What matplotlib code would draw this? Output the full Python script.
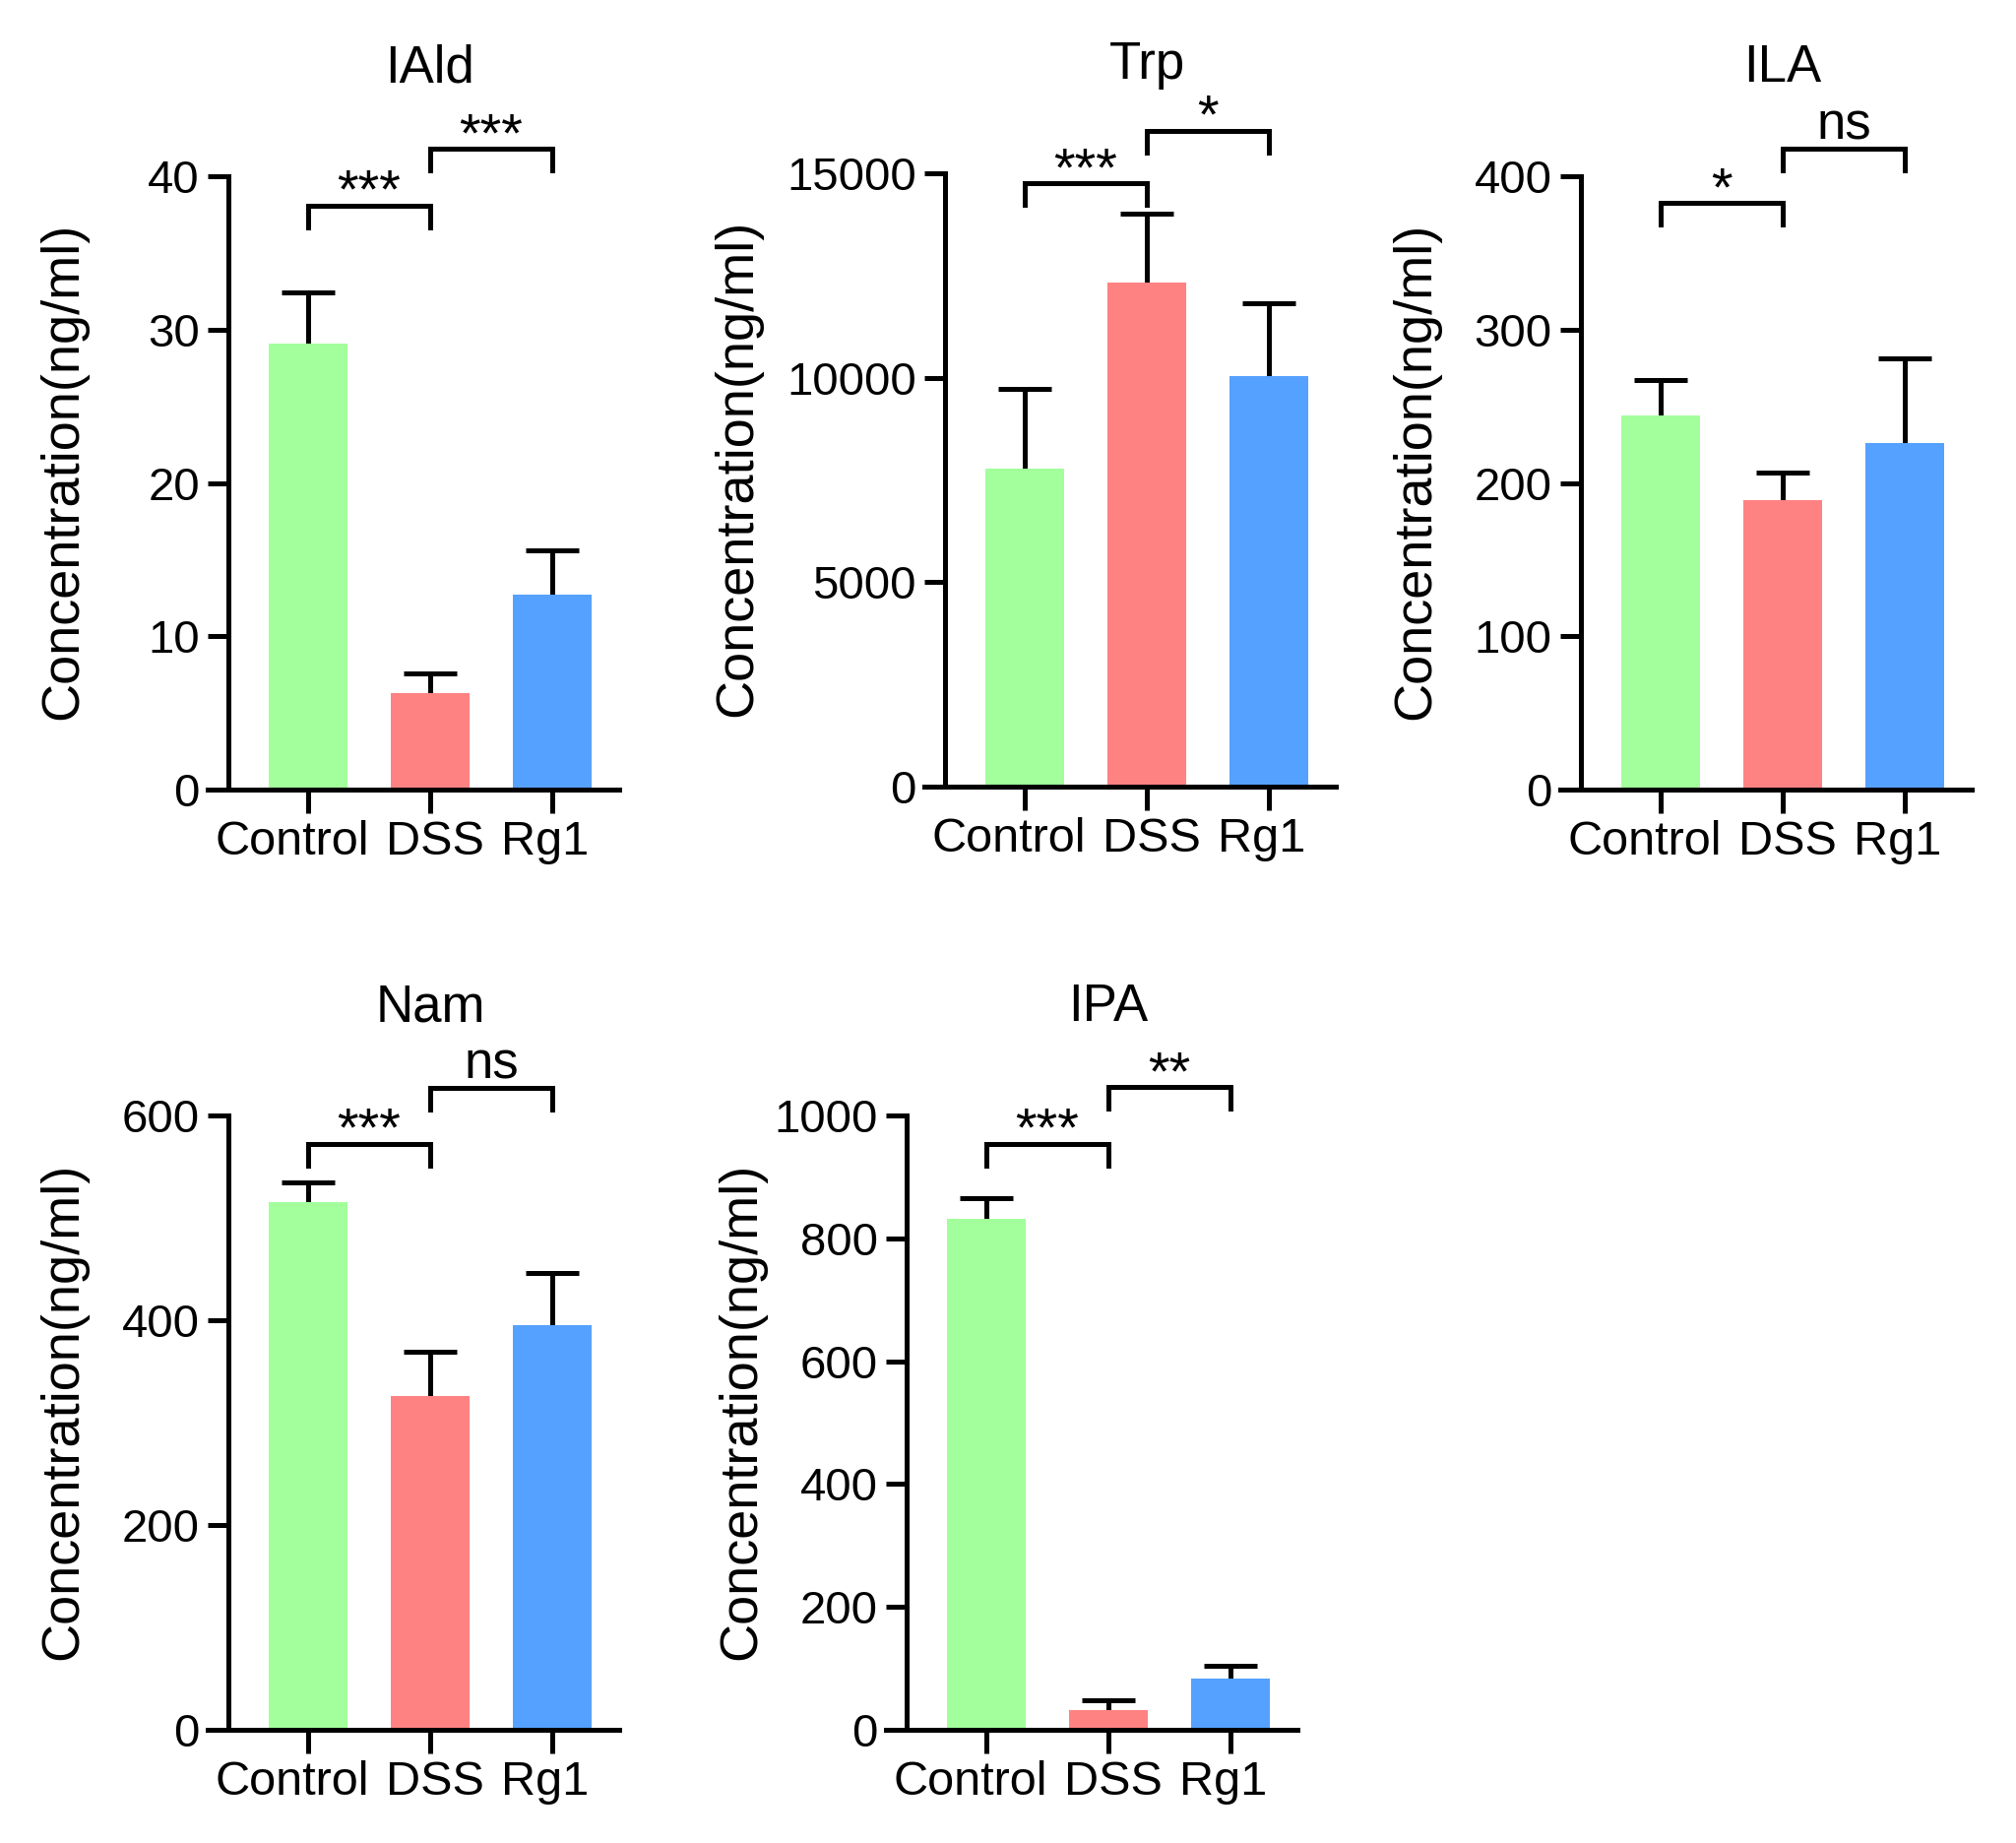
import numpy as np
import matplotlib.pyplot as plt
import matplotlib.transforms as mtransforms

plt.rcParams['font.family'] = ['Liberation Sans', 'DejaVu Sans']

# groups and colours
groups = ['Control', 'DSS', 'Rg1']
bar_colors = ['#A2FF9C', '#FF8282', '#55A1FF']

# panel names, bar means, top of error bar (mean + SD)
titles = ['IAld', 'Trp', 'ILA', 'Nam', 'IPA']
iald_mean = [29.1, 6.3, 12.7]
iald_top = [32.4, 7.6, 15.6]
trp_mean = [7780, 12330, 10030]
trp_top = [9720, 14010, 11830]
ila_mean = [243.7, 188.9, 225.9]
ila_top = [267.4, 206.7, 281.5]
nam_mean = [515, 325.6, 394.9]
nam_top = [535, 368.8, 446.5]
ipa_mean = [831.8, 32.3, 83.2]
ipa_top = [866, 48, 103.5]

# y axis ranges and tick steps
y_max = [40, 15000, 400, 600, 1000]
y_step = [10, 5000, 100, 200, 200]

# significance brackets: (Control vs DSS, DSS vs Rg1)
sig_text = [['***', '***'], ['***', '*'], ['*', 'ns'], ['***', 'ns'], ['***', '**']]
sig_height = [[38.1, 41.8], [14750, 16040], [382.6, 417.8], [572.4, 626.7], [953.8, 1046]]

means = [iald_mean, trp_mean, ila_mean, nam_mean, ipa_mean]
tops = [iald_top, trp_top, ila_top, nam_top, ipa_top]

W, H = 2048, 1872
fig = plt.figure(figsize=(W / 100, H / 100), dpi=100)

# pixel layout of each panel: y-axis x, zero line y, top tick y
panel_px = [(232, 802, 179), (960, 799, 176), (1606, 802, 179),
            (232, 1757, 1133), (921, 1757, 1133)]
first_off = 81   # px from y axis to first bar centre
spacing = 124    # px between bar centres
right_off = 68   # px beyond last centre
tick_px = 21
lw = 3.6
cap_half = 0.215  # half width of error caps, in bar-spacing units
label_shift = [-16, 5, -7]  # px nudges of the x labels, as in the original

for i in range(5):
    yx, y0, yt = panel_px[i]
    left_px = yx - tick_px
    right_px = yx + first_off + 2 * spacing + right_off
    ax = fig.add_axes([left_px / W, 1 - y0 / H, (right_px - left_px) / W, (y0 - yt) / H])
    ax.set_xlim(-(first_off + tick_px) / spacing, 2 + right_off / spacing)
    ax.set_ylim(0, y_max[i])

    x = np.arange(3)
    m = np.array(means[i])
    t = np.array(tops[i])
    ax.bar(x, m, width=0.64, color=bar_colors, linewidth=0, zorder=2)
    # upward-only error bars
    ax.vlines(x, m, t, colors='black', lw=lw, zorder=1, clip_on=False)
    ax.hlines(t, x - cap_half, x + cap_half, colors='black', lw=lw, zorder=3, clip_on=False)

    for s in ['top', 'right']:
        ax.spines[s].set_visible(False)
    ax.spines['left'].set_position(('data', -first_off / spacing))
    ax.spines['left'].set_linewidth(lw)
    ax.spines['bottom'].set_linewidth(lw)
    ax.spines['left'].set_zorder(4)
    ax.spines['bottom'].set_zorder(4)

    ax.set_yticks(np.arange(0, y_max[i] + 1, y_step[i]))
    ax.set_xticks(x)
    ax.set_xticklabels(groups)
    ax.tick_params(axis='y', length=15, width=lw, labelsize=34, pad=6)
    ax.tick_params(axis='x', length=17, width=lw, labelsize=35, pad=5)
    for lab, dx in zip(ax.get_xticklabels(), label_shift):
        lab.set_transform(lab.get_transform() +
                          mtransforms.ScaledTranslation(dx / 100, 0, fig.dpi_scale_trans))

    # brackets
    per_px = y_max[i] / (y0 - yt)
    leg = 22 * per_px
    for j in range(2):
        h = sig_height[i][j]
        ax.plot([j, j, j + 1, j + 1], [h - leg, h, h, h - leg], color='black',
                lw=lw, clip_on=False, solid_joinstyle='miter')
        if sig_text[i][j] == 'ns':
            ax.text(j + 0.5, h + 10 * per_px, 'ns', ha='center', va='baseline', fontsize=38)
        else:
            ax.text(j + 0.5, h - 2 * per_px, sig_text[i][j], ha='center', va='baseline', fontsize=40)

    # title and y label
    fig.text((yx + first_off + spacing) / W, 1 - (yt - 110) / H, titles[i],
             ha='center', va='center', fontsize=38)
    lab_x = yx - (211 if i == 1 else 168)
    fig.text(lab_x / W, 1 - ((y0 + yt) / 2 - 12) / H, 'Concentration(ng/ml)',
             rotation=90, ha='center', va='center', fontsize=39)

fig.savefig('out.png', dpi=100)
